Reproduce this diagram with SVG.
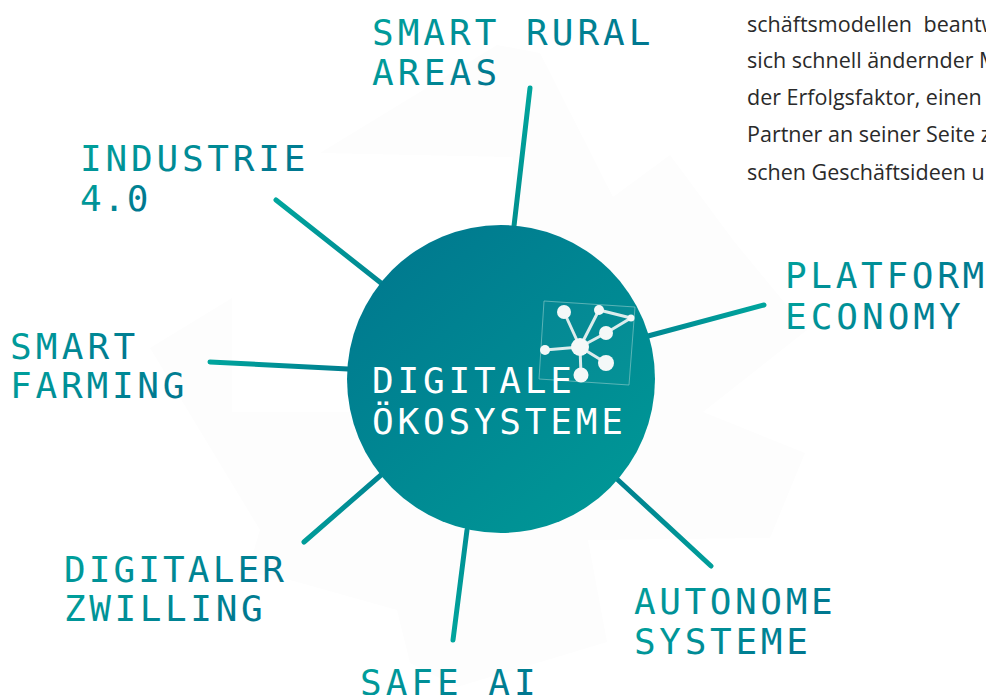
<svg xmlns="http://www.w3.org/2000/svg" width="986" height="695" viewBox="0 0 986 695">
<defs>
<linearGradient id="cg" x1="0.15" y1="0.1" x2="0.85" y2="0.9"><stop offset="0" stop-color="#007a8f"/><stop offset="1" stop-color="#009696"/></linearGradient>
<linearGradient id="tg" x1="0" y1="0" x2="1" y2="0.4"><stop offset="0" stop-color="#00a39c"/><stop offset="1" stop-color="#007890"/></linearGradient>
<linearGradient id="c1" gradientUnits="userSpaceOnUse" x1="530" y1="88" x2="514" y2="226"><stop offset="0" stop-color="#00a59d"/><stop offset="1" stop-color="#00908f"/></linearGradient>
<linearGradient id="c2" gradientUnits="userSpaceOnUse" x1="276" y1="200" x2="381" y2="283"><stop offset="0" stop-color="#00a59d"/><stop offset="1" stop-color="#008892"/></linearGradient>
<linearGradient id="c3" gradientUnits="userSpaceOnUse" x1="764" y1="305" x2="648" y2="336"><stop offset="0" stop-color="#00a59d"/><stop offset="1" stop-color="#008892"/></linearGradient>
<linearGradient id="c4" gradientUnits="userSpaceOnUse" x1="210" y1="362" x2="348" y2="369"><stop offset="0" stop-color="#00a59d"/><stop offset="1" stop-color="#007e8f"/></linearGradient>
<linearGradient id="c5" gradientUnits="userSpaceOnUse" x1="304" y1="542" x2="381" y2="475"><stop offset="0" stop-color="#009c99"/><stop offset="1" stop-color="#008592"/></linearGradient>
<linearGradient id="c6" gradientUnits="userSpaceOnUse" x1="453" y1="640" x2="467" y2="530"><stop offset="0" stop-color="#00a59d"/><stop offset="1" stop-color="#008f94"/></linearGradient>
<linearGradient id="c7" gradientUnits="userSpaceOnUse" x1="711" y1="566" x2="618" y2="480"><stop offset="0" stop-color="#009e9a"/><stop offset="1" stop-color="#00808f"/></linearGradient>
<filter id="soft" x="-5%" y="-5%" width="110%" height="110%"><feGaussianBlur stdDeviation="0.5"/></filter>
</defs>
<style>
.l{font-family:"DejaVu Sans Mono","Liberation Mono",monospace;font-size:36px;letter-spacing:4px;fill:url(#tg)}
.c{font-family:"DejaVu Sans Mono","Liberation Mono",monospace;font-size:36px;letter-spacing:3.8px;fill:#fff}
.b{font-family:"Open Sans","Noto Sans",sans-serif;font-size:21.5px;fill:#2a2a2a}
.k{stroke-width:5;stroke-linecap:round;fill:none}
.i{stroke:#dcecec;stroke-width:3;fill:none}
.n{fill:#f4f8f8}
</style>
<rect width="986" height="695" fill="#fff"/>
<path id="bg" fill="#fdfdfd" d="M320 153L497 45L540 53L613 197L670 155L733 240L807 330L703 412L805 453L770 538L588 540L607 642L457 687L410 663L397 610L283 578L247 573L260 530L150 348L232 298L232 412L420 412L513 300L513 157Z"/>
<g id="connectors">
<path class="k" stroke="url(#c1)" d="M530 88L514 226"/>
<path class="k" stroke="url(#c2)" d="M276 200L381 283"/>
<path class="k" stroke="url(#c3)" d="M764 305L648 336"/>
<path class="k" stroke="url(#c4)" d="M210 362L348 369"/>
<path class="k" stroke="url(#c5)" d="M381 475L304 542"/>
<path class="k" stroke="url(#c6)" d="M467 530L453 640"/>
<path class="k" stroke="url(#c7)" d="M618 480L711 566"/>
</g>
<g id="hub">
<circle cx="501" cy="379" r="154" fill="url(#cg)"/>
<g filter="url(#soft)">
<path d="M544 301L635 307L629 385L539 379Z" fill="#fff" fill-opacity=".02" stroke="#7fc4c4" stroke-width=".7"/>
<path class="i" d="M564 312L580 347M599 310L580 347M631 318L599 310M631 318L606 333L580 347M545 350L580 347M581 375L580 347M606 363L580 347"/>
<circle class="n" cx="564" cy="312" r="7"/><circle class="n" cx="599" cy="310" r="5"/><circle class="n" cx="631" cy="318" r="3.5"/><circle class="n" cx="606" cy="333" r="7"/><circle class="n" cx="580" cy="347" r="9"/><circle class="n" cx="545" cy="350" r="5"/><circle class="n" cx="581" cy="375" r="7.5"/><circle class="n" cx="606" cy="363" r="8"/>
</g>
<text class="c" x="372" y="393">DIGITALE</text>
<text class="c" x="372" y="434">ÖKOSYSTEME</text>
</g>
<g id="smart-rural"><text class="l" x="372" y="45">SMART RURAL</text><text class="l" x="372" y="85" style="letter-spacing:4.2px">AREAS</text></g>
<g id="industrie"><text class="l" x="80" y="171" style="letter-spacing:3.8px">INDUSTRIE</text><text class="l" x="80" y="211" style="letter-spacing:1.7px">4.0</text></g>
<g id="platform"><text class="l" x="785" y="288" style="letter-spacing:3.7px">PLATFORM</text><text class="l" x="785" y="329">ECONOMY</text></g>
<g id="smart-farming"><text class="l" x="10" y="359" style="letter-spacing:4.2px">SMART</text><text class="l" x="10" y="398" style="letter-spacing:3.8px">FARMING</text></g>
<g id="digitaler"><text class="l" x="64" y="582" style="letter-spacing:3.1px">DIGITALER</text><text class="l" x="64" y="621" style="letter-spacing:3.6px">ZWILLING</text></g>
<g id="autonome"><text class="l" x="634" y="614" style="letter-spacing:3.6px">AUTONOME</text><text class="l" x="634" y="654" style="letter-spacing:3.7px">SYSTEME</text></g>
<g id="safe-ai"><text class="l" x="360" y="695">SAFE AI</text></g>
<g id="copy">
<text class="b" x="747" y="32" word-spacing="6">schäftsmodellen beantw</text>
<text class="b" x="747" y="68">sich schnell ändernder M</text>
<text class="b" x="747" y="105">der Erfolgsfaktor, einen</text>
<text class="b" x="747" y="142">Partner an seiner Seite z</text>
<text class="b" x="747" y="180">schen Geschäftsideen u</text>
</g>
</svg>
